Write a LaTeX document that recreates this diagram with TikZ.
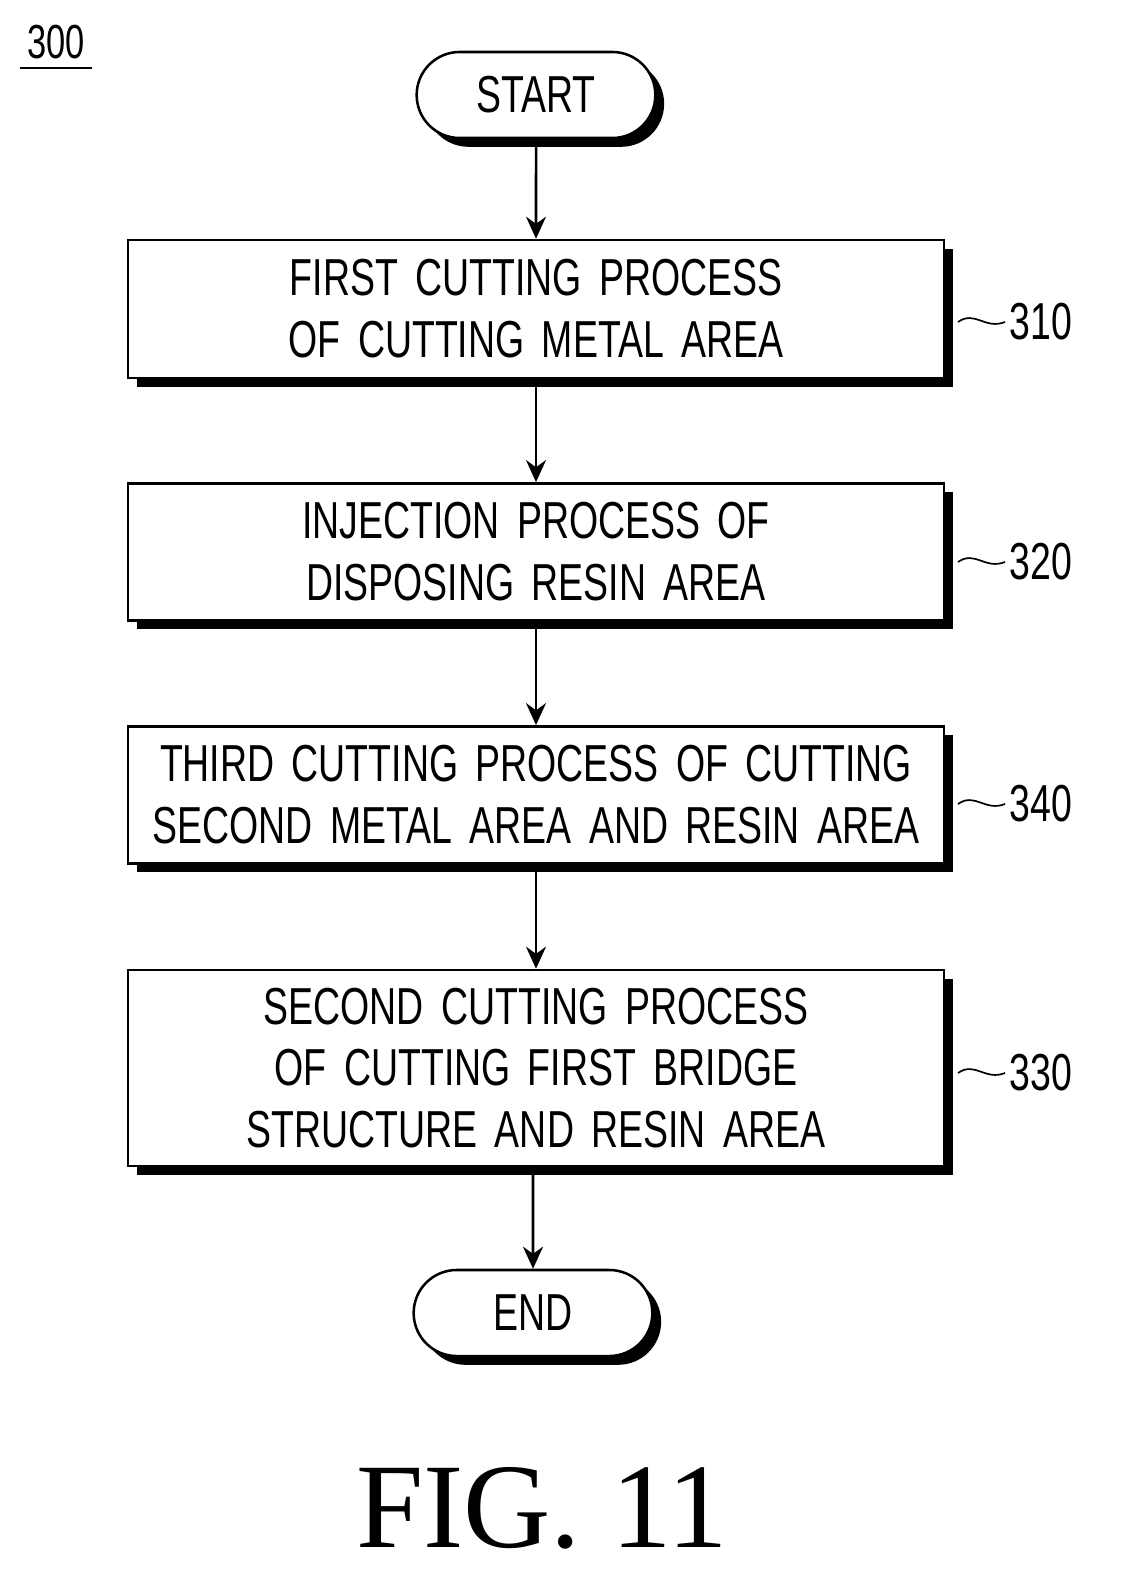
\documentclass[tikz,border=0pt]{standalone}
\usepackage{fontspec}
\setmainfont{Liberation Sans}[FakeStretch=0.72]
\newfontfamily\figfont{Liberation Serif}
\usetikzlibrary{shapes.misc,arrows.meta,shadows}
\tikzset{
  procbox/.style={draw, line width=1.8pt, fill=white, text width=20.2cm, align=center,
    font=\fontsize{37}{44}\selectfont, inner sep=0.1cm,
    copy shadow={shadow xshift=0.22cm, shadow yshift=-0.22cm, draw=none, fill=black}},
  term/.style={draw, line width=1.8pt, fill=white, rounded rectangle, minimum width=6.2cm,
    minimum height=2.15cm, font=\fontsize{37}{44}\selectfont,
    copy shadow={shadow xshift=0.22cm, shadow yshift=-0.22cm, draw=none, fill=black}},
  flow/.style={line width=1.8pt, -{Stealth[length=0.55cm,width=0.5cm]}},
  tag/.style={font=\fontsize{37}{44}\selectfont, anchor=west},
  lead/.style={line width=1.2pt}
}
\begin{document}
\begin{tikzpicture}[x=0.025cm,y=-0.025cm]
\useasboundingbox (0,0) rectangle (1121,1596);
\node[font=\fontsize{34}{40}\selectfont] (num) at (56,42) {300};
\draw[line width=1.2pt] (20,68) -- (92,68);
% steps
\node[term] (start) at (536,95) {START};
\node[procbox, minimum height=3.45cm] (s310) at (536,309) {FIRST CUTTING PROCESS\\OF CUTTING METAL AREA};
\node[procbox, minimum height=3.43cm] (s320) at (536,552) {INJECTION PROCESS OF\\DISPOSING RESIN AREA};
\node[procbox, minimum height=3.43cm] (s340) at (536,795) {THIRD CUTTING PROCESS OF CUTTING\\SECOND METAL AREA AND RESIN AREA};
\node[procbox, minimum height=4.9cm] (s330) at (536,1068) {SECOND CUTTING PROCESS\\OF CUTTING FIRST BRIDGE\\STRUCTURE AND RESIN AREA};
\node[term] (end) at (533,1313) {END};
\draw[flow] (start) -- (s310);
\draw[flow] (s310) -- (s320);
\draw[flow] (s320) -- (s340);
\draw[flow] (s340) -- (s330);
\draw[flow] (s330.south -| end) -- (end);
% labels
\foreach \n/\y in {310/322, 320/562, 340/804, 330/1073}{
  \node[tag] (t\n) at (1005,\y) {\n};
  \coordinate (c\n) at (958,\y);
  \draw[lead] (c\n) .. controls (975,\y-12) and (985,\y+8) .. (t\n.west);
}
\node[font=\figfont\fontsize{86}{90}\selectfont] (fig) at (542,1508) {FIG. 11};
\end{tikzpicture}
\end{document}
